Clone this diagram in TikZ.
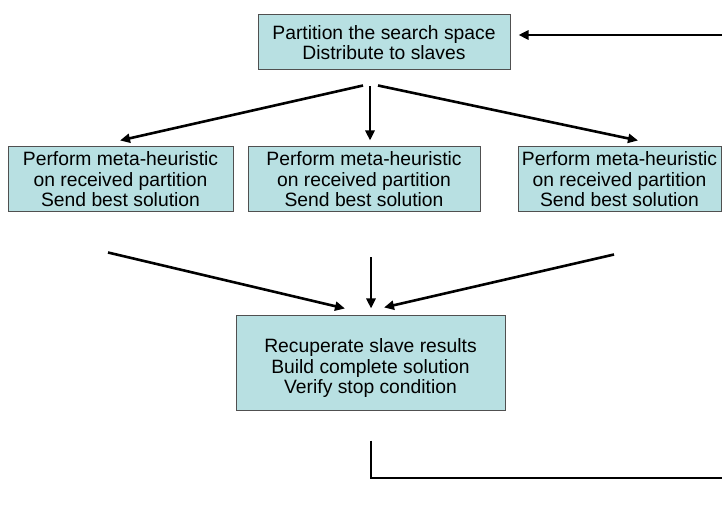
\documentclass[tikz,border=0pt]{standalone}
\usepackage{fontspec}
\setmainfont{Liberation Sans}
\usetikzlibrary{arrows.meta,calc}
\definecolor{boxfill}{HTML}{B8E0E2}
\definecolor{boxline}{HTML}{505050}
\begin{document}
\begin{tikzpicture}[x=1pt,y=-1pt,
  txt/.style={align=center,inner sep=0pt,font=\fontsize{19.3}{20.5}\selectfont},
  box/.style={txt,draw=boxline,line width=1pt,fill=boxfill},
  arr/.style={line width=2.6pt,-{Triangle[length=10pt,width=9pt]}}]
\useasboundingbox (0,0) rectangle (722,510);
\clip (0,0) rectangle (722,510);
\node[box,minimum width=252pt,minimum height=55pt] (top) at (384,42.5) {Partition the search space\\Distribute to slaves};
\node[box,minimum width=225pt,minimum height=65pt] (L) at (120.5,179.5) {Perform meta-heuristic\\on received partition\\Send best solution};
\node[box,minimum width=232pt,minimum height=65pt] (M) at (364,179.5) {Perform meta-heuristic\\on received partition\\Send best solution};
\node[box,minimum width=203pt,minimum height=65pt] (R) at (619.5,179.5) {Perform meta-heuristic\\on received partition\\Send best solution};
\node[box,minimum width=269pt,minimum height=95pt] (B) at (370.5,362.5) {};
\node[txt] (Bt) at ([yshift=-6pt]B.center) {Recuperate slave results\\Build complete solution\\Verify stop condition};
\draw[arr] ([xshift=-21pt,yshift=-15pt]top.south) -- ([xshift=-0.5pt,yshift=6pt]L.north);
\draw[arr] ([xshift=-14pt,yshift=-16pt]top.south) -- ([xshift=6pt,yshift=6pt]M.north);
\draw[arr] ([xshift=-6pt,yshift=-15pt]top.south) -- ([xshift=18.5pt,yshift=6pt]R.north);
\draw[arr] ([xshift=-12.5pt,yshift=-40pt]L.south) -- ([xshift=-25.5pt,yshift=6pt]B.north);
\draw[arr] ([xshift=7pt,yshift=-45pt]M.south) -- ([xshift=0.5pt,yshift=6pt]B.north);
\draw[arr] ([xshift=-5.5pt,yshift=-42pt]R.south) -- ([xshift=13.5pt,yshift=7pt]B.north);
\coordinate (fbA) at (740,478);
\coordinate (fbB) at (740,35);
\draw[arr] ([xshift=0.5pt,yshift=-30pt]B.south) |- (fbA) -- (fbB) -- ([xshift=8pt,yshift=7.5pt]top.east);
\end{tikzpicture}
\end{document}
